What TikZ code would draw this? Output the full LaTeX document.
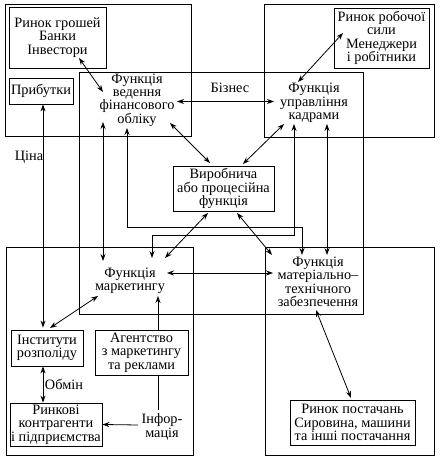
\documentclass[tikz,border=0pt]{standalone}
\usepackage{fontspec}
\setmainfont{Liberation Serif}
\usetikzlibrary{arrows.meta}
\newcommand\dfont{\fontsize{14.3}{13.4}\selectfont}
\begin{document}
\begin{tikzpicture}[x=1pt,y=1pt,line width=0.8pt,
  box/.style={draw,inner sep=0pt,align=center,font=\dfont},
  lbl/.style={inner sep=0pt,align=center,font=\dfont},
  region/.style={draw,line width=0.8pt},
  ar/.style={-{Stealth[length=7pt,width=5pt]}},
  dar/.style={{Stealth[length=7pt,width=5pt]}-{Stealth[length=7pt,width=5pt]}}]
\fill[white] (0,0) rectangle (443,457);
\useasboundingbox (0,0) rectangle (443,457);
% regions
\draw[region] (5,453) rectangle (191,321);
\draw[region] (264,453) rectangle (434,320);
\draw[region] (6,210) rectangle (193,2);
\draw[region] (265,210) rectangle (434,2);
\draw[region] (79,385) rectangle (363,143);
% boxes
\node[box,minimum width=97pt,minimum height=61pt] (bank) at (57.5,419.5) {Ринок грошей\\Банки\\Інвестори};
\node[box,minimum width=64pt,minimum height=26pt] (profit) at (41,366) {Прибутки};
\node[box,minimum width=95pt,minimum height=60pt] (labour) at (381.5,419) {Ринок робочої\\сили\\Менеджери\\і робітники};
\node[box,minimum width=101pt,minimum height=45pt] (prod) at (223.5,268.5) {Виробнича\\або процесійна\\функція};
\node[box,minimum width=72pt,minimum height=36pt] (distr) at (47,109) {Інститути\\розполіду};
\node[box,minimum width=93pt,minimum height=45pt] (agency) at (141.5,104.5) {Агентство\\з маркетингу\\та реклами};
\node[box,minimum width=92pt,minimum height=43pt] (contr) at (56,32.5) {Ринкові\\контрагенти\\і підприємства};
\node[box,minimum width=125pt,minimum height=45pt] (supply) at (352.5,34.5) {Ринок постачань\\Сировина, машини\\та інші постачання};
% function texts
\node[lbl] (fin) at (137,357) {Функція\\ведення\\фінансового\\обліку};
\node[lbl] (hr) at (314,354) {Функція\\управління\\кадрами};
\node[lbl] (mkt) at (130,176) {Функція\\маркетингу};
\node[lbl] (mat) at (318,175) {Функція\\матеріально–\\технічного\\забезпечення};
\node[lbl] (info) at (162,30) {Інфор-\\мація};
\node[lbl] (biz) at (230,369) {Бізнес};
\node[lbl] (price) at (29,300) {Ціна};
\node[lbl] (exch) at (64,73) {Обмін};
% connectors
\draw[dar] ([shift={(21.5,-20.5)}]bank.center) -- ([shift={(-34,8)}]fin.center);
\draw[dar] ([shift={(-38.5,5)}]labour.center) -- ([shift={(-16,21)}]hr.center);
\draw[dar] ([shift={(40,-1.5)}]fin.center) -- ([shift={(-40,1.5)}]hr.center);
\draw[dar] ([shift={(33,-23)}]fin.center) -- ([shift={(-13.5,25.5)}]prod.center);
\draw[dar] ([shift={(-30,-21)}]hr.center) -- ([shift={(19.5,24.5)}]prod.center);
\draw[dar] ([xshift=2pt,yshift=0pt]profit.south) -- ([xshift=-4pt,yshift=2pt]distr.north);
\draw[dar] ([shift={(-34,-22)}]fin.center) -- ([shift={(-27,20)}]mkt.center);
\draw[dar] ([shift={(-10,-28)}]fin.center) -- ++(0,-99) -| ([shift={(-16,27)}]mat.center);
\draw[dar] ([shift={(-20,-21)}]hr.center) -- ++(0,-111) -| ([shift={(22,23)}]mkt.center);
\draw[dar] ([shift={(13,-21)}]hr.center) -- ([shift={(9,27)}]mat.center);
\draw[dar] ([shift={(-15.5,-24.5)}]prod.center) -- ([shift={(35,23)}]mkt.center);
\draw[dar] ([shift={(13.5,-24.5)}]prod.center) -- ([shift={(-46,27)}]mat.center);
\draw[dar] ([shift={(37,8)}]mkt.center) -- ([shift={(-45,9)}]mat.center);
\draw[dar] ([shift={(-32,-15)}]mkt.center) -- ([shift={(3,20)}]distr.center);
\draw[ar] ([xshift=16.5pt]agency.north) -- ([shift={(28,-15)}]mkt.center);
\draw ([xshift=16.5pt]agency.south) -- ([shift={(-4,17)}]info.center);
\draw[ar] ([shift={(-24,2)}]info.center) -- (contr.east);
\draw[dar] ([xshift=-4pt]distr.south) -- ([xshift=-13pt]contr.north);
\draw[dar] ([shift={(-2,-28)}]mat.center) -- ([shift={(-1.5,24.5)}]supply.center);
\end{tikzpicture}
\end{document}
